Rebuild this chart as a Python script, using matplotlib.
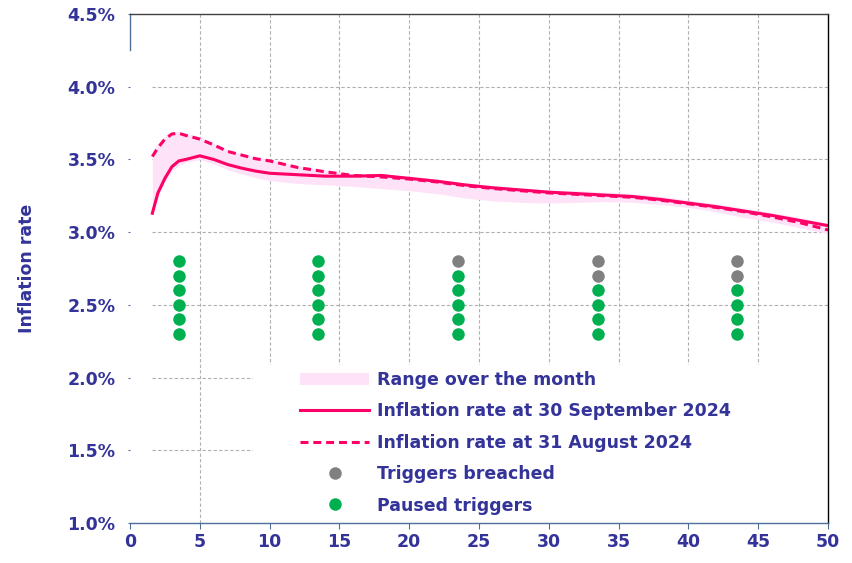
import matplotlib
matplotlib.use("Agg")
import matplotlib.pyplot as plt
from matplotlib.patches import Rectangle, Patch
from matplotlib.lines import Line2D

plt.rcParams['font.family'] = ['DejaVu Sans']
plt.rcParams['font.weight'] = 'bold'

NAVY = '#333399'
PINK = '#FF0066'
BAND = '#FDE2F8'
GREEN = '#00B050'
GREY = '#808080'

# horizon (years) and inflation rates (%)
horizon = [1.6, 2, 2.5, 3, 3.5, 4, 5, 6, 7, 8, 9, 10, 12, 14, 16, 18, 20,
           22, 24, 26, 28, 30, 32, 34, 36, 38, 40, 42, 44, 46, 48, 50]
rate_sep = [3.13, 3.27, 3.37, 3.45, 3.49, 3.50, 3.525, 3.50, 3.465, 3.44, 3.42,
            3.405, 3.395, 3.385, 3.385, 3.39, 3.37, 3.35, 3.325, 3.305, 3.29,
            3.275, 3.265, 3.255, 3.245, 3.225, 3.20, 3.175, 3.145, 3.115, 3.08, 3.045]
rate_aug = [3.52, 3.58, 3.64, 3.675, 3.68, 3.665, 3.64, 3.60, 3.555, 3.53, 3.505,
            3.49, 3.445, 3.415, 3.39, 3.38, 3.365, 3.345, 3.32, 3.30, 3.285,
            3.27, 3.26, 3.25, 3.24, 3.22, 3.195, 3.17, 3.14, 3.105, 3.065, 3.015]
range_low = [3.12, 3.25, 3.35, 3.42, 3.46, 3.48, 3.50, 3.47, 3.43, 3.40, 3.375,
             3.355, 3.335, 3.325, 3.315, 3.30, 3.285, 3.265, 3.235, 3.215, 3.205,
             3.20, 3.205, 3.21, 3.205, 3.19, 3.17, 3.14, 3.10, 3.07, 3.03, 2.99]
range_high = [3.56, 3.61, 3.66, 3.69, 3.695, 3.68, 3.655, 3.61, 3.565, 3.54, 3.515,
              3.50, 3.455, 3.425, 3.40, 3.40, 3.385, 3.365, 3.34, 3.32, 3.305,
              3.29, 3.285, 3.275, 3.265, 3.245, 3.22, 3.195, 3.165, 3.135, 3.10, 3.06]

# trigger columns
trigger_x = [3.5, 13.5, 23.5, 33.5, 43.5]
trigger_levels = [2.8, 2.7, 2.6, 2.5, 2.4, 2.3]
breached_count = [0, 0, 1, 2, 2]

yticks = [1.0, 1.5, 2.0, 2.5, 3.0, 3.5, 4.0, 4.5]
xticks = list(range(0, 55, 5))

fig = plt.figure(figsize=(8.53, 5.63), dpi=100)
ax = fig.add_axes([0.1524, 0.0710, 0.8183, 0.9041])
ax.set_xlim(0, 50)
ax.set_ylim(1.0, 4.5)

# grid
ax.hlines(yticks[1:-1], 1.6, 50, colors='#b0b0b0', linestyles=(0, (3, 2)), linewidth=0.8, zorder=0)
ax.vlines(xticks[1:-1], 1.0, 4.5, colors='#b0b0b0', linestyles=(0, (3, 2)), linewidth=0.8, zorder=0)

# white block behind the legend
ax.add_patch(Rectangle((0.176, 0.0), 0.824, 0.31, transform=ax.transAxes,
                       facecolor='white', edgecolor='none', zorder=1))

ax.fill_between(horizon, range_low, range_high, color=BAND, linewidth=0, zorder=2)
ax.plot(horizon, rate_aug, color=PINK, linewidth=2.2, linestyle=(0, (2.6, 1.6)), zorder=3)
ax.plot(horizon, rate_sep, color=PINK, linewidth=2.2, zorder=4)

for x, nb in zip(trigger_x, breached_count):
    for i, lvl in enumerate(trigger_levels):
        ax.plot(x, lvl, 'o', color=GREY if i < nb else GREEN, markersize=9,
                markeredgewidth=0, zorder=5)

ax.set_yticks(yticks)
ax.set_yticklabels(['%.1f%%' % v for v in yticks])
ax.set_xticks(xticks)
ax.tick_params(axis='y', colors=NAVY, labelsize=12.5, length=1.5, pad=9, color='#4F6E9A')
ax.tick_params(axis='x', colors=NAVY, labelsize=12.5, length=4.5, pad=3,
               direction='out', color='#4F6E9A')
for lab in ax.get_xticklabels() + ax.get_yticklabels():
    lab.set_fontweight('bold')

ax.spines['top'].set_color('#404040')
ax.spines['right'].set_color('black')
ax.spines['bottom'].set_color('#4F6E9A')
ax.spines['left'].set_color('#4F6E9A')
ax.spines['left'].set_bounds(4.25, 4.5)
for s in ax.spines.values():
    s.set_linewidth(1.0)
    s.set_zorder(6)

ax.set_ylabel('Inflation rate', color=NAVY, fontsize=12.5, fontweight='bold')
ax.yaxis.set_label_coords(-0.134, 0.5)

handles = [
    Patch(facecolor=BAND, edgecolor='none'),
    Line2D([], [], color=PINK, linewidth=2.2),
    Line2D([], [], color=PINK, linewidth=2.2, linestyle=(0, (2.6, 1.6))),
    Line2D([], [], color=GREY, marker='o', linestyle='none', markersize=9, markeredgewidth=0),
    Line2D([], [], color=GREEN, marker='o', linestyle='none', markersize=9, markeredgewidth=0),
]
labels = ['Range over the month', 'Inflation rate at 30 September 2024',
          'Inflation rate at 31 August 2024', 'Triggers breached', 'Paused triggers']
leg = ax.legend(handles, labels, loc='upper left', bbox_to_anchor=(0.2436, 0.2986),
                frameon=False, fontsize=12.5, handlelength=4.0, handletextpad=0.45,
                labelspacing=0.77, borderaxespad=0, borderpad=0)
for t in leg.get_texts():
    t.set_color(NAVY)
    t.set_fontweight('bold')
leg.set_zorder(7)

fig.savefig('out.png', dpi=100)
